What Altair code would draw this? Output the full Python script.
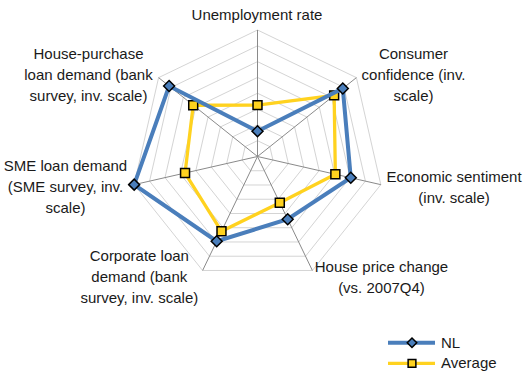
import altair as alt
import pandas as pd

# ---------------- data ----------------
categories = [
    "Unemployment rate",
    "Consumer confidence (inv. scale)",
    "Economic sentiment (inv. scale)",
    "House price change (vs. 2007Q4)",
    "Corporate loan demand (bank survey, inv. scale)",
    "SME loan demand (SME survey, inv. scale)",
    "House-purchase loan demand (bank survey, inv. scale)",
]
category_lines = [
    ["Unemployment rate"],
    ["Consumer", "confidence (inv.", "scale)"],
    ["Economic sentiment", "(inv. scale)"],
    ["House price change", "(vs. 2007Q4)"],
    ["Corporate loan", "demand (bank", "survey, inv. scale)"],
    ["SME loan demand", "(SME survey, inv.", "scale)"],
    ["House-purchase", "loan demand (bank", "survey, inv. scale)"],
]
nl_values = [1.6, 6.9, 6.05, 4.4, 5.95, 8.0, 7.15]
average_values = [3.25, 6.2, 5.05, 3.25, 5.25, 4.7, 5.2]
series_names = ["NL", "Average"]
ring_levels = [1, 2, 3, 4, 5, 6, 7, 8]

# ---------------- layout ----------------
W, H = 525, 371
CX, CY = 257.5, 156.5          # centre of the web, px
R_PX = 126.5                   # outer ring radius, px
R_MAX = ring_levels[-1]
UNIT = R_MAX / R_PX            # data units per pixel
N = len(categories)

series_colors = ["#4a7ebb", "#ffd21f"]
series_shapes = ["diamond", "square"]
series_sizes = [120, 80]
series_widths = [4, 3.3]

# label placement: offset (px) of first-line anchor from the outer vertex
label_offsets = [(-0.5, -10.2), (57.1, -18.3), (73.2, -2.9), (69.1, 1.2),
                 (-63.3, -9.8), (-68.7, -14.1), (-70.1, -18.6)]

x_scale = alt.Scale(domain=[(0 - CX) * UNIT, (W - CX) * UNIT], nice=False, zero=False)
y_scale = alt.Scale(domain=[(CY - H) * UNIT, CY * UNIT], nice=False, zero=False)

ANG = "2*PI*datum.idx/%d" % N


def xy(chart, r_field):
    return chart.transform_calculate(
        x=f"datum.{r_field}*sin({ANG})",
        y=f"datum.{r_field}*cos({ANG})",
    )


X = alt.X("x:Q", scale=x_scale, axis=None)
Y = alt.Y("y:Q", scale=y_scale, axis=None)

# ---- grid rings ----
ring_rows = [{"ring": lv, "idx": i, "r": lv} for lv in ring_levels for i in range(N + 1)]
rings = xy(alt.Chart(pd.DataFrame(ring_rows)), "r").mark_line(
    color="#d4d4d4", strokeWidth=1
).encode(x=X, y=Y, detail="ring:N", order="idx:Q")

# ---- spokes ----
spoke_rows = [{"idx": i, "r": R_MAX, "category": categories[i]} for i in range(N)]
spokes = alt.Chart(pd.DataFrame(spoke_rows)).transform_calculate(
    x=f"datum.r*sin({ANG})", y=f"datum.r*cos({ANG})", x0="0", y0="0"
).mark_rule(color="#8a8a8a", strokeWidth=1).encode(
    x=alt.X("x0:Q", scale=x_scale, axis=None),
    y=alt.Y("y0:Q", scale=y_scale, axis=None),
    x2="x:Q", y2="y:Q",
)

# ---- series ----
series_rows = []
for s, vals in zip(series_names, [nl_values, average_values]):
    for i in range(N + 1):
        series_rows.append({"series": s, "idx": i, "category": categories[i % N],
                            "value": vals[i % N]})
series_df = pd.DataFrame(series_rows)

series_layers = []
for s, col, shp, sz, sw in zip(series_names, series_colors, series_shapes,
                                series_sizes, series_widths):
    base = xy(alt.Chart(series_df).transform_filter(alt.datum.series == s), "value")
    line = base.mark_line(color=col, strokeWidth=sw, strokeJoin="miter").encode(
        x=X, y=Y, order="idx:Q")
    pts = base.transform_filter(alt.datum.idx < N).mark_point(
        shape=shp, size=sz, filled=True, fill=col, stroke="black",
        strokeWidth=1.5, opacity=1
    ).encode(x=X, y=Y, tooltip=["series:N", "category:N", "value:Q"])
    series_layers.append([line, pts])
# NL is painted over the average
series_layers = series_layers[1] + series_layers[0]

# ---- category labels ----
label_rows = [{"idx": i, "r": R_MAX, "label": "\n".join(category_lines[i]),
               "ox": label_offsets[i][0] * UNIT, "oy": -label_offsets[i][1] * UNIT}
              for i in range(N)]
labels = alt.Chart(pd.DataFrame(label_rows)).transform_calculate(
    x=f"datum.r*sin({ANG}) + datum.ox", y=f"datum.r*cos({ANG}) + datum.oy"
).mark_text(
    font="Liberation Sans", fontSize=15, color="#1a1a1a", align="center",
    baseline="alphabetic", lineBreak="\n", lineHeight=21
).encode(x=X, y=Y, text="label:N")

# ---- legend ----
LEG_X0, LEG_X1, LEG_XM, LEG_TX = 388, 435, 412, 440
LEG_Y0, LEG_STEP = 342.7, 20.6
leg_rows = []
for k, s in enumerate(series_names):
    py = LEG_Y0 + k * LEG_STEP
    leg_rows.append({"series": s, "k": k,
                     "x0": (LEG_X0 - CX) * UNIT, "x1": (LEG_X1 - CX) * UNIT,
                     "xm": (LEG_XM - CX) * UNIT, "xt": (LEG_TX - CX) * UNIT,
                     "y": (CY - py) * UNIT})
leg_df = pd.DataFrame(leg_rows)
legend_layers = []
for k, (s, col, shp, sz, sw) in enumerate(zip(series_names, series_colors, series_shapes,
                                              series_sizes, series_widths)):
    lb = alt.Chart(leg_df).transform_filter(alt.datum.k == k)
    legend_layers.append(lb.mark_rule(color=col, strokeWidth=sw).encode(
        x=alt.X("x0:Q", scale=x_scale, axis=None), x2="x1:Q",
        y=alt.Y("y:Q", scale=y_scale, axis=None)))
    legend_layers.append(lb.mark_point(
        shape=shp, size=sz * 0.75, filled=True, fill=col, stroke="black",
        strokeWidth=1.5, opacity=1).encode(
        x=alt.X("xm:Q", scale=x_scale, axis=None),
        y=alt.Y("y:Q", scale=y_scale, axis=None)))
    legend_layers.append(lb.mark_text(
        font="Liberation Sans", fontSize=15, color="#1a1a1a", align="left",
        baseline="middle", dx=1).encode(
        x=alt.X("xt:Q", scale=x_scale, axis=None),
        y=alt.Y("y:Q", scale=y_scale, axis=None), text="series:N"))

chart = alt.layer(
    rings, spokes, *series_layers, labels, *legend_layers
).properties(
    width=W, height=H, padding=0,
    autosize=alt.AutoSizeParams(type="none"),
    background="white",
).configure_view(stroke=None)

chart.save("out.html", embed_options={"renderer": "svg", "actions": False})
